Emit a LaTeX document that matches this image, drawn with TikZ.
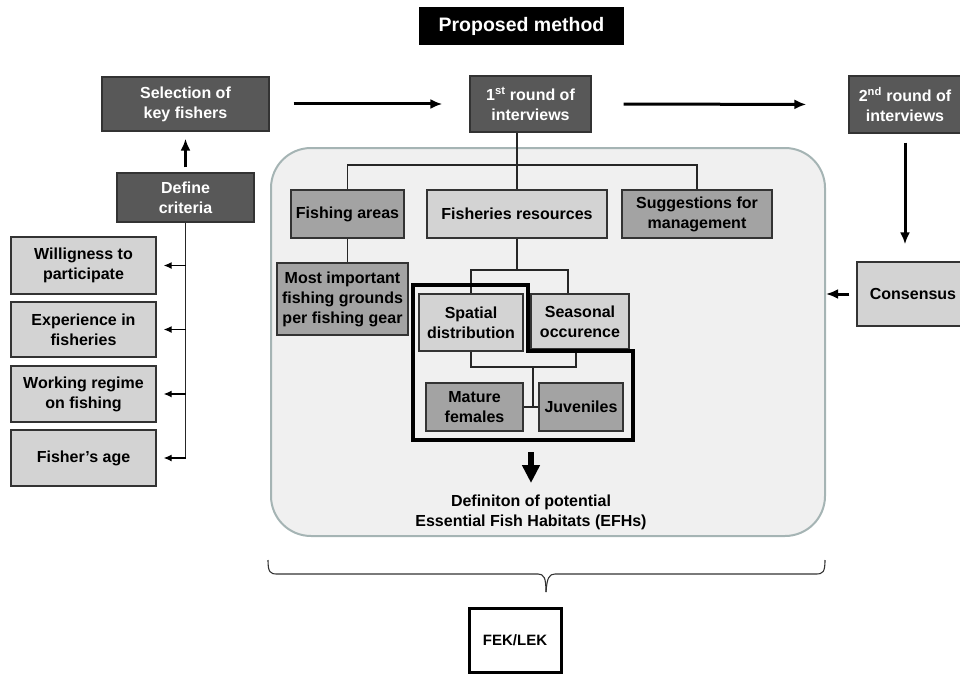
\documentclass[tikz,border=0pt]{standalone}
\usepackage{fontspec}
\setmainfont{Liberation Sans}
\usetikzlibrary{arrows.meta,shadows}

\definecolor{darkfill}{HTML}{585858}
\definecolor{midfill}{HTML}{A3A3A3}
\definecolor{lightfill}{HTML}{D3D3D3}
\definecolor{panelfill}{HTML}{F0F0F0}
\definecolor{paneledge}{HTML}{A5B4B4}

\tikzset{
	box/.style={draw=black!80, line width=1.3pt, align=center, inner sep=2pt, font=\fontsize{16}{20}\selectfont\bfseries},
	dark/.style={box, fill=darkfill, text=white},
	mid/.style={box, fill=midfill},
	light/.style={box, fill=lightfill},
	panel/.style={draw=paneledge, fill=panelfill, line width=2pt, rounded corners=40pt},
	link/.style={black!85, line width=1.2pt},
	arrow/.style={-{Latex[length=8pt,width=7pt]}, line width=1.3pt, shorten >=7pt},
	bigarrow/.style={-{Latex[length=12pt,width=10pt]}, line width=3pt},
	brace/.style={black!80, line width=1.1pt}
}

\begin{document}
\begin{tikzpicture}[x=1pt,y=-1pt]
\useasboundingbox (0,0) rectangle (960,674);
\clip (0,0) rectangle (960,674);

\node (title) at (521.5,26) [fill=black, text=white, minimum width=205pt, minimum height=38pt, font=\fontsize{19.5}{22}\selectfont\bfseries] {Proposed method};

\node (panel) at (548,342) [panel, minimum width=554pt, minimum height=388pt] {};

% top row
\node (sel) at (185.5,104) [dark, minimum width=167pt, minimum height=54pt] {Selection of\\key fishers};
\node (first) at (530.5,104) [dark, minimum width=121pt, minimum height=56pt] {1\textsuperscript{st} round of\\interviews};
\node (second) at (905,104.5) [dark, minimum width=112pt, minimum height=57pt] {2\textsuperscript{nd} round of\\interviews};

\draw [bigarrow, shorten <=24pt, shorten >=27pt] (sel.east) -- (first.west);
\draw [bigarrow, shorten <=32pt, shorten >=42pt] (first.east) -- (second.west);

% criteria
\node (define) at (185.5,197.5) [dark, minimum width=137pt, minimum height=49pt] {Define\\criteria};
\node (will) at (83.5,265.5) [light, minimum width=145pt, minimum height=57pt] {Willigness to\\participate};
\node (exp) at (83.5,329.5) [light, minimum width=145pt, minimum height=55pt] {Experience in\\fisheries};
\node (work) at (83.5,394) [light, minimum width=145pt, minimum height=56pt] {Working regime\\on fishing};
\node (age) at (83.5,458) [light, minimum width=145pt, minimum height=56pt] {Fisher's age};

\draw [bigarrow, shorten <=5pt, shorten >=7pt] (define.north) -- (sel.south);
\draw [link] (define.south) -- (define.south |- age.east);
\draw [arrow] (define.south |- will.east) -- (will.east);
\draw [arrow] (define.south |- exp.east) -- (exp.east);
\draw [arrow] (define.south |- work.east) -- (work.east);
\draw [arrow] (define.south |- age.east) -- (age.east);

% first round topics
\node (areas) at (347.5,214) [mid, minimum width=113pt, minimum height=48pt] {Fishing areas};
\node (res) at (517,214) [light, minimum width=180pt, minimum height=48pt] {Fisheries resources};
\node (sugg) at (697,214) [mid, minimum width=150pt, minimum height=48pt] {Suggestions for\\management};
\node (most) at (342.5,299) [mid, minimum width=131pt, minimum height=72pt] {Most important\\fishing grounds\\per fishing gear};

\coordinate (bar) at (517,165);
\draw [link] (first.south -| res.north) -- (res.north);
\draw [link] (areas.north) |- (bar) -| (sugg.north);
\draw [link] (areas.south) -- (areas.south |- most.north);

% resources
\node (spat) at (471,322.5) [light, minimum width=104pt, minimum height=57pt] {Spatial\\distribution};
\node (seas) at (580,321.5) [light, minimum width=98pt, minimum height=55pt] {Seasonal\\occurence};
\node (mat) at (474.5,407) [mid, minimum width=97pt, minimum height=48pt] {Mature\\females};
\node (juv) at (581,407) [mid, minimum width=84pt, minimum height=48pt] {Juveniles};

\coordinate (split) at (517,270);
\coordinate (join) at (533,367);
\draw [link] (res.south) -- (split);
\draw [link] (spat.north) |- (split) -| ([xshift=-12pt]seas.north);
\draw [link] (spat.south) |- (join) -| ([xshift=-4pt]seas.south);
\draw [link] (join) -- (join |- mat.east);
\draw [link] (mat.east) -- (juv.west);

\draw [line width=3.5pt, line join=miter] (413,285) -- (528,285) -- (528,351) -- (633,351) -- (633,440) -- (413,440) -- cycle;

\coordinate (hlbot) at (531,440);
\node (eff) at (531,512) [align=center, font=\fontsize{16}{20}\selectfont\bfseries] {Definiton of potential\\Essential Fish Habitats (EFHs)};
\draw [-{Triangle[length=18pt,width=17pt]}, line width=5.5pt, shorten <=12pt, shorten >=8pt] (hlbot) -- (eff.north);

% second round
\node (cons) at (913,294) [light, minimum width=112pt, minimum height=64pt] {Consensus};
\draw [bigarrow, shorten <=9pt, shorten >=17pt] (second.south) -- (second.south |- cons.north);
\draw [bigarrow, shorten <=7pt] (cons.west) -- (cons.west -| panel.east);

% brace and result
\draw [brace] (268,560) .. controls (268,572) and (270,574) .. (277,574) -- (538,574) .. controls (544,574) and (546,578) .. (546,592);
\draw [brace] (825,560) .. controls (825,572) and (823,574) .. (816,574) -- (555,574) .. controls (549,574) and (547,578) .. (546,592);

\node (fek) at (515,640) [draw=black, line width=3pt, fill=white, minimum width=92pt, minimum height=64pt, drop shadow={opacity=0.35, shadow xshift=2pt, shadow yshift=-2pt}, font=\fontsize{15}{18}\selectfont\bfseries] {FEK/LEK};
\end{tikzpicture}
\end{document}
